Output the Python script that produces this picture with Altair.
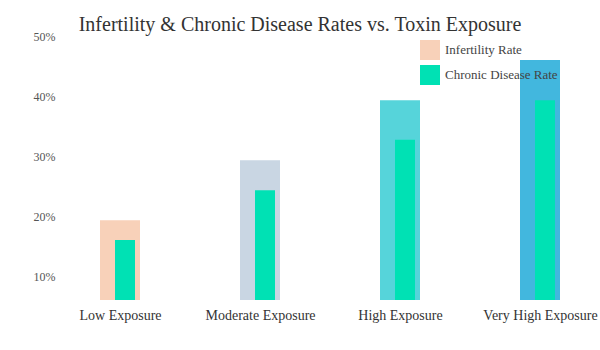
import altair as alt
import pandas as pd

categories = ["Low Exposure", "Moderate Exposure", "High Exposure", "Very High Exposure"]
infertility = [0.193, 0.293, 0.393, 0.46]
chronic = [0.16, 0.243, 0.327, 0.393]
series_names = ["Infertility Rate", "Chronic Disease Rate"]
y_ticks = [0.1, 0.2, 0.3, 0.4, 0.5]

outer_colors = ["#f8d1b9", "#c9d6e3", "#56d4da", "#42b7de"]
green = "#00e1b4"

df = pd.DataFrame({
    "category": categories,
    "infertility": infertility,
    "chronic": chronic,
    "series": [series_names[1]] * len(categories),
})

FONT = "Liberation Serif"

x = alt.X("category:N", sort=categories,
          scale=alt.Scale(type="point", domain=categories, padding=3 / 7),
          axis=alt.Axis(title=None, labelAngle=0, labelFont=FONT, labelFontSize=14,
                        labelColor="#333333", labelPadding=8, domain=False, ticks=False,
                        grid=False))
yscale = alt.Scale(domain=[0.06, 0.5], nice=False, zero=False)
yaxis = alt.Axis(title=None, format=".0%", values=y_ticks, labelFont=FONT, labelFontSize=12,
                 labelColor="#555555", labelPadding=5, domain=False, ticks=False, grid=False)

outer = alt.Chart(df).mark_bar(width=40, clip=True).encode(
    x=x,
    y=alt.Y("infertility:Q", scale=yscale, axis=yaxis),
    y2=alt.datum(0),
    color=alt.Color("category:N", scale=alt.Scale(domain=categories, range=outer_colors),
                    legend=None),
)

inner = alt.Chart(df).mark_bar(width=20, xOffset=5, clip=True).encode(
    x=x,
    y=alt.Y("chronic:Q", scale=yscale, axis=yaxis),
    y2=alt.datum(0),
    color=alt.Color("series:N",
                    scale=alt.Scale(domain=series_names, range=[outer_colors[0], green]),
                    legend=alt.Legend(title=None, orient="none", legendX=360, legendY=4,
                                      symbolType="square", symbolSize=400,
                                      symbolStrokeWidth=0, symbolOpacity=1,
                                      labelFont=FONT, labelFontSize=13,
                                      labelColor="#444444", labelOffset=5,
                                      rowPadding=5, padding=0)),
)

chart = alt.layer(outer, inner).resolve_scale(color="independent").properties(
    width=540, height=264,
    autosize=alt.AutoSizeParams(type="none"),
    padding={"left": 60, "top": 36, "right": 0, "bottom": 50},
    title=alt.TitleParams("Infertility & Chronic Disease Rates vs. Toxin Exposure",
                          font=FONT, fontSize=20, fontWeight="normal", color="#333333",
                          anchor="middle", dx=-30, dy=27, offset=6, baseline="alphabetic"),
).configure(font=FONT).configure_view(stroke=None)

chart.save("out.html", embed_options={"renderer": "svg", "actions": False})
